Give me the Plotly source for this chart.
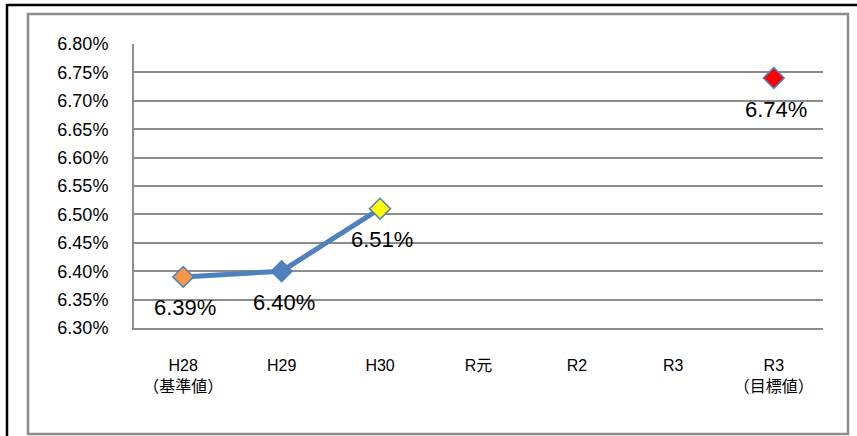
import plotly.graph_objects as go

categories = ["H28<br>（基準値）", "H29", "H30", "R元", "R2", "R3 ", "R3<br>（目標値）"]
actual_x = ["H28<br>（基準値）", "H29", "H30"]
actual_values = [0.0639, 0.0640, 0.0651]
actual_colors = ["#F79646", "#4F81BD", "#FFFF00"]
target_x = ["R3<br>（目標値）"]
target_values = [0.0674]
target_colors = ["#FF0000"]

FONT = "Liberation Sans, Noto Sans CJK JP, sans-serif"

fig = go.Figure()
fig.add_trace(go.Scatter(
    x=actual_x, y=actual_values, mode="lines+markers",
    line=dict(color="#4F81BD", width=5),
    marker=dict(symbol="diamond", size=16, color=actual_colors,
                line=dict(color="#4F81BD", width=1.5)),
    cliponaxis=False, showlegend=False,
))
fig.add_trace(go.Scatter(
    x=target_x, y=target_values, mode="markers",
    marker=dict(symbol="diamond", size=16, color=target_colors,
                line=dict(color="#4F81BD", width=1.5)),
    cliponaxis=False, showlegend=False,
))

annotations = []
for xs, ys in ((actual_x, actual_values), (target_x, target_values)):
    for xv, yv in zip(xs, ys):
        annotations.append(dict(
            x=xv, y=yv, xref="x", yref="y", text=f"{yv*100:.2f}%",
            showarrow=False, yshift=-31, xshift=2,
            font=dict(size=22, color="#000000", family=FONT),
        ))

L, R, T, B = 134, 34, 44, 108
W, H = 857, 436
pw, ph = W - L - R, H - T - B

def px(x):
    return (x - L) / pw

def py(y):
    return (H - B - y) / ph

fig.update_layout(
    width=W, height=H,
    margin=dict(l=L, r=R, t=T, b=B),
    paper_bgcolor="white", plot_bgcolor="white",
    font=dict(family=FONT, color="#000000"),
    annotations=annotations,
    xaxis=dict(
        type="category", categoryorder="array", categoryarray=categories,
        range=[-0.5, len(categories) - 0.5],
        showgrid=False, showline=True, linecolor="#8C8C8C", linewidth=2,
        ticks="", ticklabelstandoff=22, tickfont=dict(size=16),
        zeroline=False, fixedrange=True,
    ),
    yaxis=dict(
        range=[0.063, 0.068], dtick=0.0005, tickformat=".2%",
        showgrid=True, gridcolor="#8C8C8C", gridwidth=2,
        showline=True, linecolor="#8C8C8C", linewidth=2,
        ticks="", ticklabelstandoff=20, tickfont=dict(size=18),
        zeroline=False, fixedrange=True,
    ),
    shapes=[
        dict(type="line", xref="paper", yref="paper",
             x0=px(6), x1=px(857), y0=py(5), y1=py(5),
             line=dict(color="#000000", width=2.5), layer="below"),
        dict(type="line", xref="paper", yref="paper",
             x0=px(7), x1=px(7), y0=py(4), y1=py(436),
             line=dict(color="#000000", width=2.5), layer="below"),
        dict(type="rect", xref="paper", yref="paper",
             x0=px(28), x1=px(848), y0=py(14), y1=py(434),
             line=dict(color="#8C8C8C", width=2.5), layer="below"),
    ],
)

fig.write_html("out.html")
